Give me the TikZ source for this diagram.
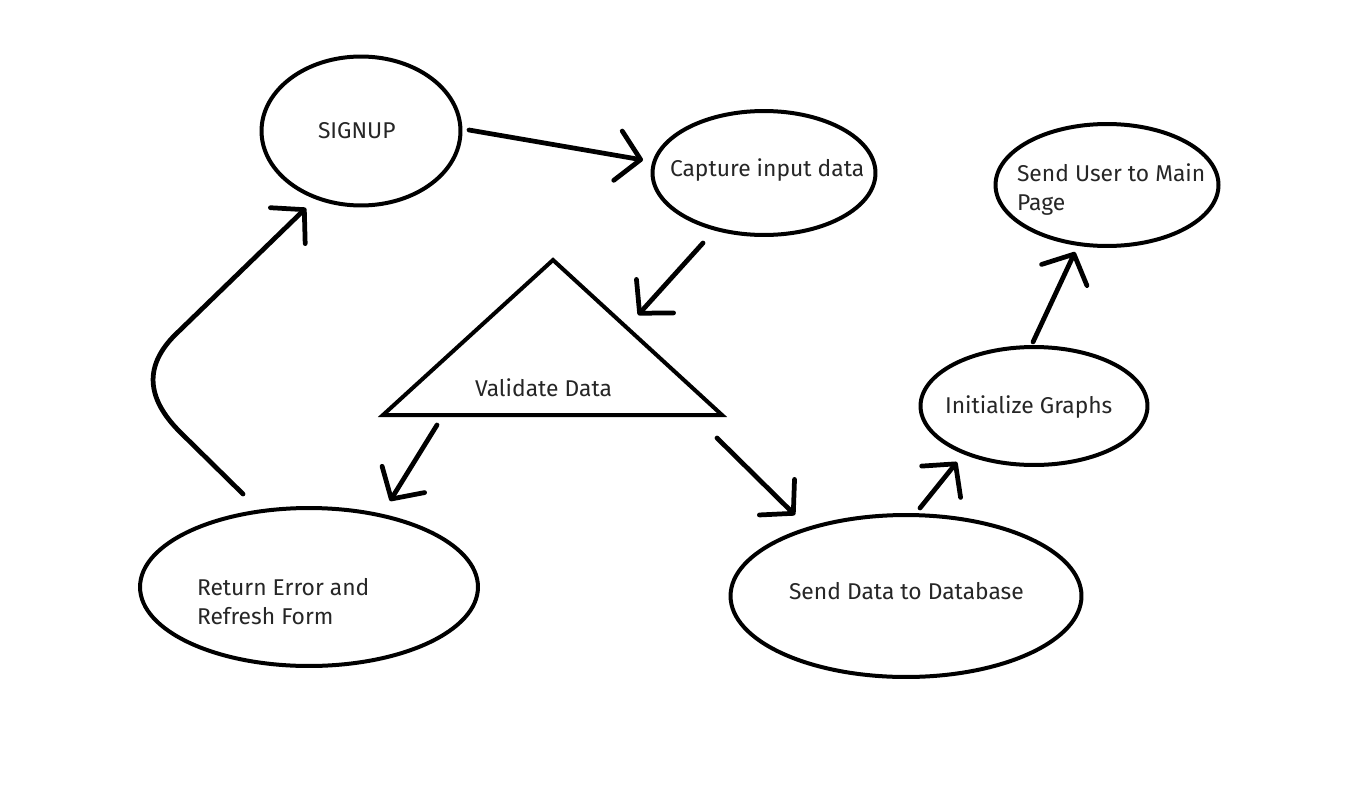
\documentclass[tikz,border=0pt]{standalone}
\usepackage{fontspec}
\setmainfont{Fira Sans}
\usetikzlibrary{shapes.geometric,arrows.meta,calc}
\begin{document}
\begin{tikzpicture}[x=0.02cm,y=-0.02cm,
  bubble/.style={draw=black,ellipse,line width=0.08cm,inner sep=0pt,outer sep=0pt},
  lbl/.style={anchor=base west,inner sep=0pt,outer sep=0pt,align=left,text=black!85,
    font=\fontsize{13pt}{16.5pt}\selectfont},
  arr/.style={draw=black,line width=0.095cm,line cap=round,line join=round,
    -{Straight Barb[length=0.46cm,width=1.0cm,line cap=round,line join=round]}}]
\useasboundingbox[fill=white] (0,0) rectangle (1361,811);
% shapes
\node[bubble,minimum width=3.98cm,minimum height=2.98cm] (sig) at (361,131) {};
\node[bubble,minimum width=4.46cm,minimum height=2.48cm] (cap) at (764,173) {};
\node[bubble,minimum width=4.46cm,minimum height=2.44cm] (usr) at (1107,185) {};
\node[bubble,minimum width=4.54cm,minimum height=2.36cm] (ini) at (1034,406) {};
\node[bubble,minimum width=7.02cm,minimum height=3.24cm] (db) at (906,596) {};
\node[bubble,minimum width=6.76cm,minimum height=3.16cm] (err) at (309,587) {};
\coordinate (tA) at (553,260);
\coordinate (tL) at (383,415);
\coordinate (tR) at (722,415);
\draw[line width=0.08cm,line join=miter] (tA) -- (tL) -- (tR) -- cycle;
% labels
\node[lbl] (sigT) at (318,138) {SIGNUP};
\node[lbl] (capT) at (670,176) {Capture input data};
\node[lbl] (usrT) at (1017,210) {Send User to Main\\Page};
\node[lbl] (valT) at (475,396) {Validate Data};
\node[lbl] (iniT) at (945,413) {Initialize Graphs};
\node[lbl] (errT) at (197,624) {Return Error and\\Refresh Form};
\node[lbl] (dbT) at (789,599) {Send Data to Database};
% connectors
\draw[arr] ($(sig)+(108,-1)$) -- ($(cap)+(-121,-13)$);
\draw[arr] ($(cap)+(-61,70)$) -- ($(tA)+(85,55)$);
\draw[arr] ($(tL)+(54,10)$) -- ($(err)+(81,-86)$);
\draw[arr] ($(tR)+(-5,23)$) -- ($(db)+(-111,-81)$);
\draw[arr] ($(db)+(14,-88)$) -- ($(ini)+(-77,56)$);
\draw[arr] ($(ini)+(-1,-64)$) -- ($(usr)+(-32,67)$);
\draw[arr] ($(err)+(-66,-93)$) -- (180,432) .. controls (145,397) and (145,365) .. (175,335) -- ($(sig)+(-55,77)$);
\end{tikzpicture}
\end{document}
